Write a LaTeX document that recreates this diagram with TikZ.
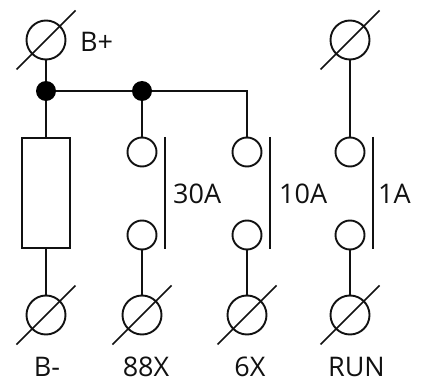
\documentclass[tikz,border=0pt]{standalone}
\usepackage{fontspec}
\setmainfont{Open Sans}
\usetikzlibrary{calc}
\definecolor{ink}{HTML}{111111}
\tikzset{
  wire/.style={line width=2pt,draw=ink},
  terminal/.style={circle,draw=ink,line width=1.9pt,minimum size=39pt,inner sep=0pt},
  contact/.style={circle,draw=ink,line width=1.9pt,minimum size=29pt,inner sep=0pt},
  junction/.style={circle,fill=black,minimum size=20pt,inner sep=0pt},
  coilbox/.style={draw=ink,line width=1.9pt,minimum width=48pt,minimum height=110pt,inner sep=0pt},
  lbl/.style={text=ink,font=\fontsize{27}{27}\selectfont,inner sep=0pt},
}
\newcommand{\slashthru}[1]{\draw[ink,line width=1.6pt] ([shift={(-29.5,29.5)}]#1.center) -- ([shift={(29.5,-29.5)}]#1.center);}
\begin{document}
\begin{tikzpicture}[x=1pt,y=-1pt]
\useasboundingbox (0,0) rectangle (428,382);
% terminals
\node[terminal] (tp) at (46,40) {};
\node[terminal] (tr) at (350,40) {};
\node[terminal] (bm) at (46,315) {};
\node[terminal] (b88) at (142,315) {};
\node[terminal] (b6) at (247,315) {};
\node[terminal] (brun) at (350,315) {};
\foreach \t in {tp,tr,bm,b88,b6,brun} {\slashthru{\t}}
% junctions and coil
\node[junction] (j1) at (46,91) {};
\node[junction] (j2) at (142,91) {};
\node[coilbox] (coil) at (46,193) {};
\coordinate (corner) at (247,91);
% contacts
\node[contact] (c1a) at (142,152) {};
\node[contact] (c1b) at (142,235) {};
\node[contact] (c2a) at (247,152) {};
\node[contact] (c2b) at (247,235) {};
\node[contact] (c3a) at (350,152) {};
\node[contact] (c3b) at (350,235) {};
% bars
\coordinate (bar1a) at (165,137); \coordinate (bar1b) at (165,249);
\coordinate (bar2a) at (270,137); \coordinate (bar2b) at (270,249);
\coordinate (bar3a) at (373,137); \coordinate (bar3b) at (373,249);
\draw[wire] (bar1a) -- (bar1b);
\draw[wire] (bar2a) -- (bar2b);
\draw[wire] (bar3a) -- (bar3b);
% wires
\draw[wire] (tp) -- (j1);
\draw[wire] (j1) -- (coil);
\draw[wire] (j1) -- (j2);
\draw[wire] (j2) -- (corner) -- (c2a);
\draw[wire] (j2) -- (c1a);
\draw[wire] (tr) -- (c3a);
\draw[wire] (coil) -- (bm);
\draw[wire] (c1b) -- (b88);
\draw[wire] (c2b) -- (b6);
\draw[wire] (c3b) -- (brun);
% labels
\node[lbl,anchor=base west] (lbp) at (80,52) {B+};
\node[lbl,anchor=base west] (l30) at (173,204) {30A};
\node[lbl,anchor=base west] (l10) at (279,204) {10A};
\node[lbl,anchor=base west] (l1) at (378,204) {1A};
\node[lbl,anchor=base] (lbm) at (47,376.5) {B-};
\node[lbl,anchor=base] (l88) at (146,376.5) {88X};
\node[lbl,anchor=base] (l6) at (250,376.5) {6X};
\node[lbl,anchor=base] (lrun) at (356.5,376.5) {RUN};
\end{tikzpicture}
\end{document}
